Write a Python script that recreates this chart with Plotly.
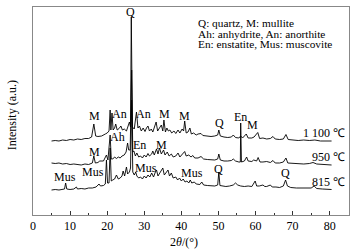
import plotly.graph_objects as go

# ---------------- data ----------------
tt_815 = [5, 6, 7, 8, 8.5, 8.8, 9.1, 10, 11, 11.7, 12, 13, 14, 15, 16, 17, 17.8, 18.2, 19, 19.5,
          19.8, 20.1, 20.5, 20.8, 21.1, 21.5, 22, 22.5, 23, 23.5, 24, 24.3, 24.7, 25.2, 25.5, 26,
          26.3, 26.6, 26.9, 27.3, 27.7, 28, 28.5, 29, 29.5, 30, 30.5, 31, 31.5, 32, 32.5, 33, 33.3,
          33.7, 34.2, 35, 35.4, 36, 36.4, 36.8, 37.3, 37.8, 38.5, 39, 39.5, 40, 40.5, 41, 41.5, 42,
          42.4, 42.8, 43.5, 44, 45, 45.5, 46, 47, 48, 49, 49.8, 50.1, 50.4, 51, 52, 53, 54, 54.6,
          55.2, 56, 57, 58, 59, 59.9, 60.3, 61, 62, 62.5, 63, 64, 64.5, 65.5, 66.5, 67.5, 68.1,
          68.6, 69.5, 71, 72.5, 73.5, 75, 75.8, 76.5, 78, 79.5, 80.5]
int_815 = [25, 25.5, 25, 26, 26, 32, 26, 25.5, 26, 28, 26, 26.5, 26, 27, 27, 28, 31, 29, 29.5, 31,
           55, 32, 32, 67, 34, 35, 36, 40, 36, 37, 39, 44, 39, 48, 41, 43,
           47, 115, 43, 40, 43, 39, 37, 38, 36, 39, 37, 40, 38, 42, 38, 43, 45,
           39, 42, 47, 40, 43, 45, 39, 42, 37, 38, 35, 37, 34, 36, 33, 34, 32,
           35, 32, 33, 31, 30.5, 33, 30, 29.5, 29, 29, 30, 43, 29.5, 29, 28.5, 29, 30, 32,
           30, 29, 28.5, 29, 28.5, 34, 29, 29, 30, 28.5, 28.5, 30, 28, 28, 27.5, 29, 35,
           29, 27.5, 27, 27, 27.5, 27, 29, 26.5, 26, 26, 25.5]

tt_950 = [5, 6, 7, 8, 9, 10, 11, 12, 13, 14, 15, 16, 16.4, 16.8, 17.5, 18, 19, 19.8, 20.2, 20.8,
          21.1, 21.5, 22, 22.5, 23, 23.5, 24, 24.6, 25.1, 25.5, 25.8, 26.2, 26.6, 26.9, 27.2, 27.6,
          28, 28.5, 29, 29.5, 30, 30.5, 31, 31.4, 32, 32.3, 32.7, 33.3, 33.7, 34.1, 34.6, 35.2,
          35.6, 36.2, 36.7, 37.3, 37.8, 38.5, 39.1, 39.6, 40.3, 40.9, 41.3, 42, 42.6, 43.1, 43.6,
          44.5, 45.3, 46, 47, 48, 49, 49.8, 50.1, 50.5, 51.5, 52.5, 53.5, 54, 54.6, 55.5, 55.9,
          56.0, 56.2, 57, 57.6, 58, 59, 59.5, 60.3, 60.7, 61.2, 62, 63, 64, 64.7, 65.3, 66.5,
          67.5, 68.2, 68.7, 70, 71.5, 73, 74.5, 75.5, 76.5, 78, 80.5]
int_950 = [52, 51.5, 52, 51, 51.5, 50.5, 51, 50.5, 50, 51, 50.5, 52, 59, 52, 52.5, 54, 54, 60, 55, 80,
           56, 56, 58, 56.5, 58, 57, 59, 60, 63, 72, 65, 65, 145, 63, 64, 59,
           62, 58, 59, 57, 60, 58, 61.5, 59, 61, 64, 60, 66, 61, 67, 61, 65,
           60, 63, 59, 61, 58, 59, 62, 58, 61, 63.5, 59, 60, 58, 59.5, 57,
           57, 58.5, 56, 55.5, 55, 55, 56, 61, 55, 54, 54, 54.5, 56, 54, 53, 53,
           92, 53, 54, 58, 54, 53.5, 55, 54, 57.5, 53, 53, 53.5, 52.5, 54.5, 52, 52,
           53, 57, 52, 51.5, 51, 51, 51.5, 52.5, 51, 50.5, 50]

tt_1100 = [5, 6, 7, 8, 9, 10, 11, 12, 13, 14, 15, 15.8, 16.4, 16.9, 17.5, 18.5, 19.5, 20, 20.5,
           20.8, 21.0, 21.3, 21.6, 22, 22.3, 22.7, 23.2, 23.7, 24.1, 24.6, 25.2, 25.6, 26.0, 26.3,
           26.5, 26.8, 27.3, 27.9, 28.3, 28.7, 29.2, 29.7, 30.2, 30.6, 31.0, 31.4, 31.9, 32.3, 32.8,
           33.2, 33.6, 34.1, 34.6, 35.0, 35.3, 35.7, 36.1, 36.5, 36.9, 37.4, 38, 38.5, 39.1, 39.6,
           40.2, 40.6, 40.9, 41.3, 41.8, 42.3, 42.7, 43.3, 44, 44.5, 45.3, 45.8, 47, 48, 49, 49.8,
           50.1, 50.5, 51.5, 52.5, 53.5, 54, 54.6, 55.5, 56, 56.5, 57.5, 58, 59, 59.6, 60.6, 61.1,
           62, 63, 64, 64.7, 65.3, 66.5, 67.5, 68.2, 68.8, 70, 71.5, 73, 74.5, 76, 77.5, 80.5]
int_1100 = [74, 74.5, 74, 75, 74.5, 75.5, 75, 76, 75.5, 76.5, 76.5, 78, 91, 79, 78.5, 79, 81, 82, 84,
            105, 85, 102, 85, 87, 91, 85, 86.5, 89, 85, 86, 84, 89, 93, 88,
            198, 88, 86, 103, 87, 89, 84, 87, 83.5, 87, 89, 84, 86, 83, 88,
            93, 84, 87, 90, 84, 95, 83, 87, 84, 85, 82, 84, 81.5, 85, 82,
            86, 84, 94, 82, 83, 87, 81, 82, 80, 81, 81.5, 79.5, 79, 78.5, 79, 80,
            85, 79, 78, 77.5, 78, 80, 77.5, 77, 79, 77, 81, 77, 77, 78, 82.5, 76.5,
            77, 76, 76.5, 78.5, 76, 75.5, 76, 80.5, 75.5, 75, 74.5, 75, 74.5, 75, 74, 74]

x_ticks = [0, 10, 20, 30, 40, 50, 60, 70, 80]

series_names = ["815 ℃", "950 ℃", "1 100 ℃"]

legend_lines = ["Q: quartz, M: mullite",
                "Ah: anhydrite, An: anorthite",
                "En: enstatite, Mus: muscovite"]

# phase labels: (text, 2theta, intensity)
phase_labels = [
    ("Q", 26.3, 203),
    ("M", 16.6, 99), ("An", 23.4, 101), ("An", 29.8, 101), ("M", 35.5, 101),
    ("M", 40.9, 99), ("Q", 50.3, 92), ("En", 56.0, 98), ("M", 59.2, 90),
    ("M", 16.6, 63), ("Ah", 22.8, 78), ("En", 28.8, 70), ("M", 34.7, 70),
    ("Mus", 8.5, 38), ("Mus", 16.1, 43), ("Mus", 30.6, 47), ("Mus", 42.8, 42),
    ("Q", 50.1, 46), ("Q", 68.1, 42),
]

# ---------------- figure ----------------
FONT = "Liberation Serif, Times New Roman, serif"
FS = 12
fig = go.Figure()
for tt, yy, nm in [(tt_815, int_815, series_names[0]),
                   (tt_950, int_950, series_names[1]),
                   (tt_1100, int_1100, series_names[2])]:
    fig.add_trace(go.Scatter(x=tt, y=yy, mode="lines", name=nm,
                             line=dict(color="black", width=0.9), showlegend=False))

ann = []
for txt, xx, yy in phase_labels:
    ann.append(dict(x=xx, y=yy, text=txt, showarrow=False, xanchor="center", yanchor="middle",
                    font=dict(family=FONT, size=FS, color="black")))
# temperature labels at right end of each curve
for nm, yy in zip(series_names, [int_815[-1], int_950[-1], int_1100[-1]]):
    ann.append(dict(x=84.6, y=yy + 8, text=nm, showarrow=False, xanchor="right", yanchor="middle",
                    font=dict(family=FONT, size=FS, color="black")))
# legend block
for i, line in enumerate(legend_lines):
    ann.append(dict(x=43.9, y=192 - 10.5 * i, text=line, showarrow=False, xanchor="left",
                    yanchor="middle", font=dict(family=FONT, size=11.3, color="black")))
# y-axis title
ann.append(dict(xref="paper", yref="paper", x=-0.066, y=0.48, text="Intensity (a.u.)",
                textangle=-90, showarrow=False, xanchor="center", yanchor="middle",
                font=dict(family=FONT, size=FS, color="black")))
# x-axis title
ann.append(dict(xref="paper", yref="paper", x=0.478, y=-0.13, text="2<i>θ</i>/(°)",
                showarrow=False, xanchor="center", yanchor="middle",
                font=dict(family=FONT, size=FS, color="black")))

fig.update_layout(
    width=359, height=250,
    margin=dict(l=33, r=10, t=7, b=35, autoexpand=False),
    paper_bgcolor="white", plot_bgcolor="white",
    annotations=ann,
    font=dict(family=FONT, size=FS, color="black"),
)
fig.update_xaxes(range=[0, 85.2], tickvals=x_ticks, ticks="inside", ticklen=4, tickwidth=1,
                 tickcolor="#333", showgrid=False, zeroline=False, automargin=False,
                 showline=True, linecolor="#888", linewidth=1, mirror=True,
                 minor=dict(ticks="inside", dtick=5, tick0=5, ticklen=2.5, tickcolor="#333"),
                 tickfont=dict(family=FONT, size=FS, color="black"))
fig.update_yaxes(range=[0, 208], showticklabels=False, ticks="", showgrid=False, zeroline=False,
                 automargin=False,
                 showline=True, linecolor="#888", linewidth=1, mirror=True)

fig.write_html("out.html", config={"displayModeBar": False},
               post_script="document.body.style.margin='0';")
